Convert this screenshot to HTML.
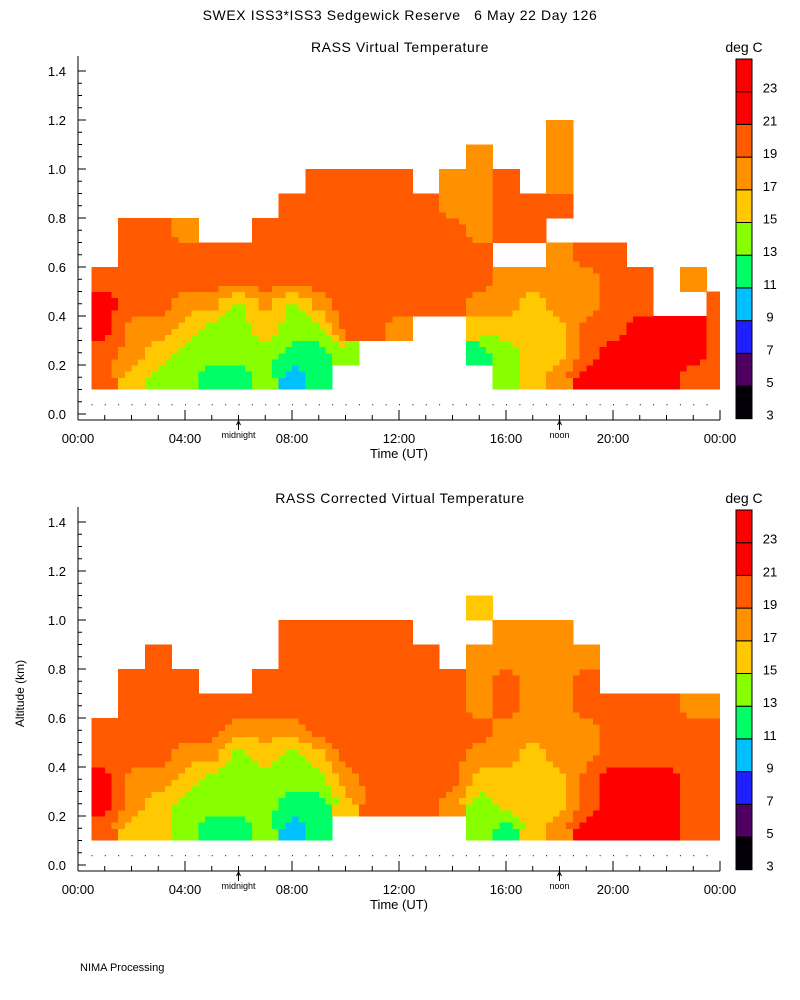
<!DOCTYPE html>
<html><head><meta charset="utf-8">
<style>
body{margin:0;background:#fff;}
svg{display:block;font-family:"Liberation Sans",sans-serif;}
text{fill:#000;font-size:13px;white-space:pre;}
</style></head>
<body>
<svg id="chart" width="800" height="1000" viewBox="0 0 800 1000">
<text x="400" y="20" text-anchor="middle" style="font-size:14px;letter-spacing:0.6px">SWEX ISS3*ISS3 Sedgewick Reserve   6 May 22 Day 126</text>
<text x="80" y="971" style="font-size:11px">NIMA Processing</text>
</svg>
<script>
// Data: column centre times (hours UT), row centre heights (km), temperatures (deg C) per column bottom->top
const hours = [1,2,3,4,5,6,7,8,9,10,11,12,13,14,15,16,17,18,19,20,21,22,23,24];
const heights = [0.15,0.25,0.35,0.45,0.55,0.65,0.75,0.85,0.95,1.05,1.15];
const tempsTop = [
 [20,20,22,22,20],
 [16,18,18,20,20,20,20],
 [14,16,18,20,20,20,20],
 [14,14,16,18,20,20,18],
 [12,14,14,18,20,20],
 [12,14,14,14,20,20],
 [14,14,16,18,20,20,20],
 [10,12,14,14,20,20,20,20],
 [12,12,14,18,20,20,20,20,20],
 [null,14,20,20,20,20,20,20,20],
 [null,null,20,20,20,20,20,20,20],
 [null,null,18,20,20,20,20,20,20],
 [null,null,null,20,20,20,20,20],
 [null,null,null,20,20,20,20,18,18],
 [null,12,16,18,20,20,18,18,18,18],
 [14,14,16,18,18,null,20,20,20],
 [16,16,16,16,18,null,20,20],
 [18,16,16,18,18,18,null,20,18,18,18],
 [22,20,20,18,18,20],
 [22,22,20,20,20,20],
 [22,22,22,20,20],
 [22,22,22,null],
 [20,22,22,null,18],
 [20,20,20,20]
];
const tempsBottom = [
 [20,22,22,20,20],
 [16,18,18,20,20,20,20],
 [16,16,18,20,20,20,20,20],
 [14,14,16,18,20,20,20],
 [12,14,14,18,20,20],
 [12,14,14,14,18,20],
 [14,14,14,16,18,20,20],
 [10,12,14,14,18,20,20,20,20],
 [12,12,14,16,20,20,20,20,20],
 [null,16,18,20,20,20,20,20,20],
 [null,20,20,20,20,20,20,20,20],
 [null,20,20,20,20,20,20,20,20],
 [null,20,20,20,20,20,20,20],
 [null,18,20,20,20,20,20],
 [14,14,16,18,20,18,18,18,null,16],
 [12,16,16,18,18,20,20,18,18],
 [16,16,16,16,18,18,18,18,18],
 [18,16,16,18,18,18,18,18,18],
 [22,20,20,18,18,20,20,18],
 [22,22,22,20,20,20],
 [22,22,22,20,20,20],
 [22,22,22,20,20,20],
 [20,20,20,20,20,18],
 [20,20,20,20,20,18]
];
const levels = [3,5,7,9,11,13,15,17,19,21,23,25];
const bandColors = ["#050008","#500060","#2020ff","#00c0ff","#00ff66","#88ff00","#ffc800","#ff9000","#ff5a00","#ff0000","#ff0000"];
const xTickLabels = ["00:00","04:00","08:00","12:00","16:00","20:00","00:00"];
const yTickLabels = ["0.0","0.2","0.4","0.6","0.8","1.0","1.2","1.4"];

const NS="http://www.w3.org/2000/svg";
const svg=document.getElementById('chart');
function mk(tag,attrs,parent){const e=document.createElementNS(NS,tag);for(const k in attrs)e.setAttribute(k,attrs[k]);(parent||svg).appendChild(e);return e;}
const X0=78,X1=720;
const xs=t=>X0+(X1-X0)*t/24;
function colorFor(v){for(let i=0;i<levels.length-1;i++){if(v<levels[i+1])return bandColors[i];}return bandColors[bandColors.length-1];}
function getV(temps,i,j){if(i<0||i>=temps.length)return null;const c=temps[i];if(j<0||j>=c.length)return null;return c[j]===undefined?null:c[j];}
// value at fractional grid position: bilinear when all 4 neighbours exist, else nearest
function sample(temps,fi,fj){
  const ni=Math.round(fi),nj=Math.round(fj);
  const near=getV(temps,ni,nj);
  if(near===null)return null;
  const i0=Math.floor(fi),j0=Math.floor(fj),a=fi-i0,b=fj-j0;
  const v00=getV(temps,i0,j0),v10=getV(temps,i0+1,j0),v01=getV(temps,i0,j0+1),v11=getV(temps,i0+1,j0+1);
  if(v00===null||v10===null||v01===null||v11===null)return near;
  return v00*(1-a)*(1-b)+v10*a*(1-b)+v01*(1-a)*b+v11*a*b;
}

function panel(idx,yBase,title,temps,showYLabel){
  const ys=h=>yBase-245*h;
  const g=mk('g',{});
  
  
  const cp=mk('clipPath',{id:'clip'+idx},g);
  mk('rect',{x:xs(0.5),y:ys(1.4),width:xs(24)-xs(0.5),height:ys(0.1)-ys(1.4)},cp);
  const cells=mk('g',{'clip-path':'url(#clip'+idx+')','shape-rendering':'crispEdges'},g);
  
  
  const S=4;
  const dh=heights[1]-heights[0];
  for(let i=0;i<temps.length;i++){
    for(let j=0;j<heights.length;j++){
      for(let si=0;si<S;si++)for(let sj=0;sj<S;sj++){
        const fi=i-0.5+(si+0.5)/S, fj=j-0.5+(sj+0.5)/S;
        const v=sample(temps,fi,fj);
        if(v===null)continue;
        const t0=hours[0]+fi-0.5/S, h0=heights[0]+fj*dh-dh*0.5/S;
        const r=mk('rect',{x:xs(t0),y:ys(h0+dh/S),width:xs(1/S)-xs(0)+0.5,height:ys(0)-ys(dh/S)+0.5,fill:colorFor(v)},cells);
        
        
      }
    }
  }
  for(let t=0.5;t<24;t+=0.5){mk('rect',{x:xs(t),y:ys(0.04),width:1,height:1,fill:'#000'},g);}
  const top=yBase-358;
  mk('line',{x1:X0,y1:top,x2:X0,y2:yBase+6,stroke:'#000'},g);
  mk('line',{x1:X0,y1:yBase+6,x2:X1,y2:yBase+6,stroke:'#000'},g);
  yTickLabels.forEach((lab,k)=>{
    const h=k*0.2,y=ys(h);
    mk('line',{x1:X0,y1:y,x2:X0+8,y2:y,stroke:'#000'},g);
    const t=mk('text',{x:X0-12,y:y+5,'text-anchor':'end'},g);t.textContent=lab;
    
    
    if(k<7)for(let m=1;m<4;m++){const ym=ys(h+m*0.05);mk('line',{x1:X0,y1:ym,x2:X0+4,y2:ym,stroke:'#000'},g);}
  });
  xTickLabels.forEach((lab,k)=>{
    const x=xs(k*4);
    mk('line',{x1:x,y1:yBase+6,x2:x,y2:yBase-4,stroke:'#000'},g);
    const t=mk('text',{x:x,y:yBase+29,'text-anchor':'middle'},g);t.textContent=lab;
    
    
  });
  for(let h=1;h<24;h++){if(h%4)mk('line',{x1:xs(h),y1:yBase+6,x2:xs(h),y2:yBase+1,stroke:'#000'},g);}
  [[6,'midnight'],[18,'noon']].forEach(([h,l])=>{
    mk('line',{x1:xs(h),y1:yBase+6,x2:xs(h),y2:yBase+16,stroke:'#000'},g);
    mk('path',{d:`M${xs(h)-2} ${yBase+11}L${xs(h)} ${yBase+7}L${xs(h)+2} ${yBase+11}`,stroke:'#000',fill:'none'},g);
    const t=mk('text',{x:xs(h),y:yBase+24,'text-anchor':'middle',style:'font-size:9px'},g);t.textContent=l;
    
    
  });
  const xt=mk('text',{x:399,y:yBase+44,'text-anchor':'middle'},g);xt.textContent='Time (UT)';
  
  
  const tt=mk('text',{x:400,y:yBase-362,'text-anchor':'middle',style:'font-size:14px;letter-spacing:0.6px'},g);tt.textContent=title;
  
  
  if(showYLabel){
    const yl=mk('text',{x:24,y:ys(0.7),'text-anchor':'middle',transform:`rotate(-90 24 ${ys(0.7)})`,style:'font-size:12px'},g);yl.textContent='Altitude (km)';
    
    
  }
  const cb=mk('g',{},g);
  
  
  const cbTop=yBase-355,bh=32.7;
  for(let i=0;i<bandColors.length;i++){
    const yb=cbTop+(bandColors.length-1-i)*bh;
    mk('rect',{x:736,y:yb,width:16,height:bh,fill:bandColors[i],stroke:'#000','stroke-width':1},cb);
    const t=mk('text',{x:770,y:yb+bh+1,'text-anchor':'middle'},cb);t.textContent=levels[i];
    
    
  }
  const u=mk('text',{x:744,y:yBase-362,'text-anchor':'middle',style:'font-size:14px'},cb);u.textContent='deg C';
  
  
}
panel(0,414,'RASS Virtual Temperature',tempsTop,false);
panel(1,865,'RASS Corrected Virtual Temperature',tempsBottom,true);
</script>
</body></html>
